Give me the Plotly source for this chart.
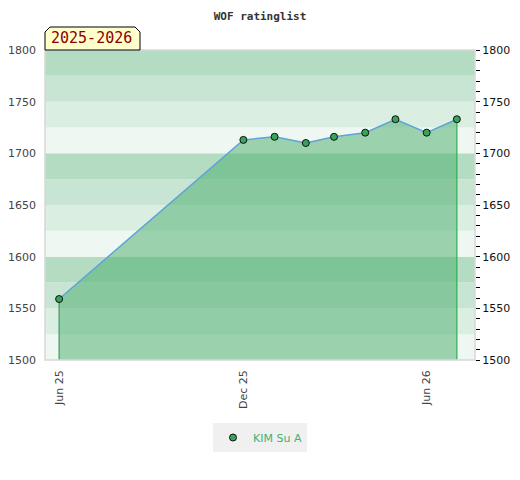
import plotly.graph_objects as go

dates = ["2025-06-01", "2025-12-01", "2026-01-01", "2026-02-01", "2026-03-01",
         "2026-04-01", "2026-05-01", "2026-06-01", "2026-07-01"]
ratings = [1559, 1713, 1716, 1710, 1716, 1720, 1733, 1720, 1733]
player = "KIM Su A"
season = "2025-2026"
title = "WOF ratinglist"
y_min, y_max = 1500, 1800
band_step = 25
band_colors = ["#eef7f1", "#dbeee2", "#c8e5d3", "#b3dcc3"]

fig = go.Figure()

# background bands
shapes = []
i = 0
v = y_min
while v < y_max:
    shapes.append(dict(type="rect", xref="paper", yref="y", x0=0, x1=1, y0=v, y1=v + band_step,
                       fillcolor=band_colors[i % 4], line=dict(width=0), layer="below"))
    v += band_step
    i += 1

# fill polygon
fig.add_trace(go.Scatter(x=[dates[0]] + dates + [dates[-1]], y=[y_min] + ratings + [y_min],
                         fill="toself", fillcolor="rgba(72,171,105,0.5)", mode="lines",
                         line=dict(width=0), hoverinfo="skip", showlegend=False))
# vertical edges
fig.add_trace(go.Scatter(x=[dates[0], dates[0]], y=[y_min, ratings[0]], mode="lines",
                         line=dict(color="#3c9a5f", width=1.2), showlegend=False, hoverinfo="skip"))
fig.add_trace(go.Scatter(x=[dates[-1], dates[-1]], y=[y_min, ratings[-1]], mode="lines",
                         line=dict(color="#2db04f", width=1.2), showlegend=False, hoverinfo="skip"))
# line
fig.add_trace(go.Scatter(x=dates, y=ratings, mode="lines", line=dict(color="#5fa3d9", width=1.5),
                         showlegend=False))
# markers
fig.add_trace(go.Scatter(x=dates, y=ratings, mode="markers", name=player,
                         marker=dict(size=7, color="#35a55a", line=dict(color="#111", width=1))))
# dummy for right axis
fig.add_trace(go.Scatter(x=[dates[0]], y=[y_min], yaxis="y2", mode="markers",
                         marker=dict(opacity=0), showlegend=False, hoverinfo="skip"))

# frame
shapes.append(dict(type="rect", xref="paper", yref="paper", x0=0, x1=1, y0=0, y1=1,
                   line=dict(color="#d8d8d8", width=1.5), layer="above"))
# season badge
shapes.append(dict(type="path", xref="paper", yref="paper", xsizemode="pixel", ysizemode="pixel",
                   xanchor=0, yanchor=1,
                   path="M 0,0 L 0,18 L 5,23 L 90,23 L 95,18 L 95,0 Z",
                   fillcolor="#ffffcc", line=dict(color="#000", width=1), layer="above"))

fig.update_layout(
    width=504, height=464,
    margin=dict(l=37, r=37, t=42, b=112),
    paper_bgcolor="white", plot_bgcolor="white",
    title=dict(text=title, x=0.5, xanchor="center", y=0.99, yanchor="top",
               font=dict(family="DejaVu Sans Mono", size=11, color="#333", weight="bold")),
    shapes=shapes,
    annotations=[dict(text=season, xref="paper", yref="paper", x=0, y=1, xanchor="left",
                      yanchor="bottom", xshift=4, yshift=1, showarrow=False,
                      font=dict(family="DejaVu Sans Mono", size=15, color="#8b0000"))],
    xaxis=dict(type="date", range=["2025-05-18", "2026-07-19"], automargin=False,
               tickvals=["2025-06-01", "2025-12-01", "2026-06-01"], tickformat="%b %y",
               tickangle=-90, showgrid=False, zeroline=False, ticks="", ticklabelstandoff=7,
               tickfont=dict(family="DejaVu Sans", size=11, color="#444")),
    yaxis=dict(range=[y_min, y_max], dtick=50, showgrid=False, zeroline=False, ticks="",
               ticklabelstandoff=8, automargin=False,
               tickfont=dict(family="DejaVu Sans", size=11, color="#444")),
    yaxis2=dict(range=[y_min, y_max], dtick=50, overlaying="y", side="right", showgrid=False,
                zeroline=False, ticks="outside", ticklen=4, tickcolor="#000", automargin=False,
                minor=dict(dtick=10, ticks="outside", ticklen=4, tickcolor="#000", showgrid=False),
                tickfont=dict(family="DejaVu Sans", size=11, color="#111")),
    legend=dict(orientation="h", x=0.5, xanchor="center", y=-0.25, yanchor="middle",
                bgcolor="#f0f0f0", font=dict(family="DejaVu Sans", size=11, color="#3cb371")),
    showlegend=True,
)

fig.write_html("out.html")
